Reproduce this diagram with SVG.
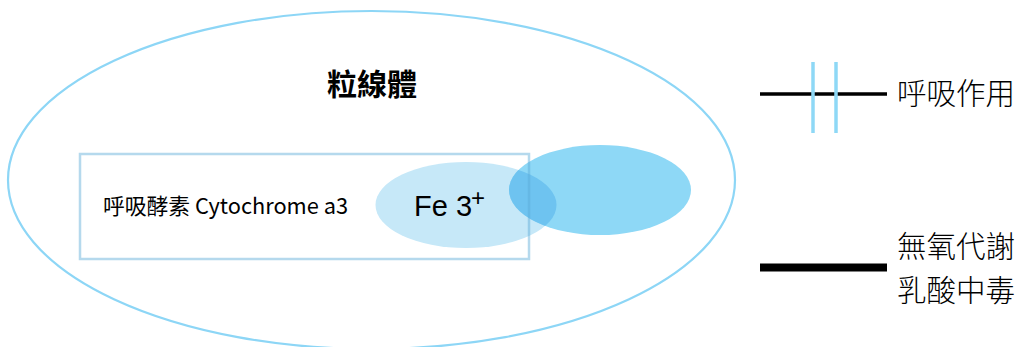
<svg xmlns="http://www.w3.org/2000/svg" width="1021" height="347" viewBox="0 0 1021 347">
<style>
.cjk{font-family:"Noto Sans CJK TC","Noto Sans CJK SC",sans-serif;fill:#000}
.lat{font-family:"Liberation Sans",Arial,sans-serif;fill:#000}
</style>
<defs>
<clipPath id="darkClip"><ellipse cx="600" cy="190" rx="91" ry="45"/></clipPath>
</defs>
<rect width="1021" height="347" fill="#fff"/>
<g id="mitochondrion">
<ellipse cx="371.5" cy="180" rx="363.5" ry="169" fill="none" stroke="#8dd6f6" stroke-width="2.2"/>
<text class="cjk" x="372" y="95" font-size="30" font-weight="bold" text-anchor="middle">粒線體</text>
</g>
<g id="enzyme">
<ellipse cx="466" cy="205" rx="90.5" ry="43" fill="#c6e8f8"/>
<ellipse cx="600" cy="190" rx="91" ry="45" fill="#8ed8f6"/>
<ellipse cx="466" cy="205" rx="90.5" ry="43" fill="#6ec3f0" clip-path="url(#darkClip)"/>
<rect x="80" y="154" width="449" height="105" fill="none" stroke="#5aaad6" stroke-opacity="0.45" stroke-width="2.5"/>
<text class="cjk" x="103" y="214" font-size="22" textLength="245" lengthAdjust="spacingAndGlyphs">呼吸酵素 Cytochrome a3</text>
<text class="lat" x="414" y="216" font-size="29">Fe 3</text>
<text class="lat" x="471" y="206" font-size="24">+</text>
</g>
<g id="legend-respiration">
<line x1="760" y1="94" x2="887" y2="94" stroke="#000" stroke-width="3.5"/>
<line x1="813" y1="62" x2="813" y2="133" stroke="#8ed8f6" stroke-width="3.5"/>
<line x1="836" y1="62" x2="836" y2="133" stroke="#8ed8f6" stroke-width="3.5"/>
<text class="cjk" x="897" y="104" font-size="29.5" font-weight="300">呼吸作用</text>
</g>
<g id="legend-anaerobic">
<line x1="760" y1="267.5" x2="887" y2="267.5" stroke="#000" stroke-width="8"/>
<text class="cjk" x="897" y="257" font-size="29.5" font-weight="300">無氧代謝</text>
<text class="cjk" x="897" y="301" font-size="29.5" font-weight="300">乳酸中毒</text>
</g>
</svg>
